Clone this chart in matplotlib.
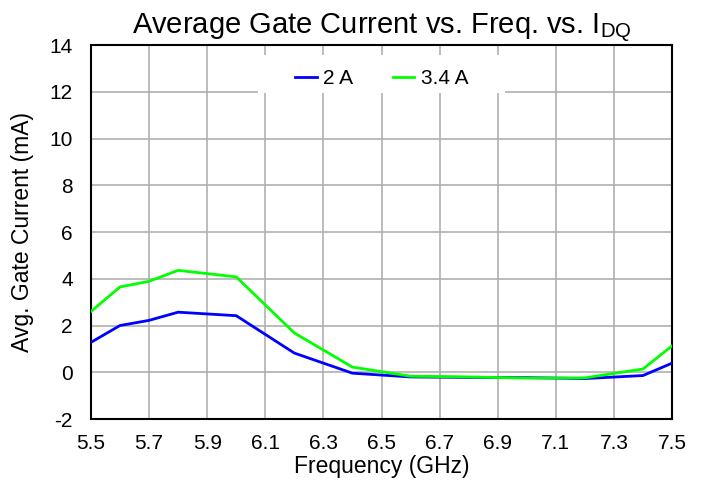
import numpy as np
import matplotlib.pyplot as plt
from matplotlib.patches import Rectangle

plt.rcParams['font.family'] = ['Liberation Sans', 'DejaVu Sans']
plt.rcParams['axes.unicode_minus'] = False

freq = [5.5, 5.6, 5.7, 5.8, 6.0, 6.2, 6.4, 6.6, 6.8, 7.0, 7.2, 7.4, 7.5]
i_2a = [1.28, 2.0, 2.22, 2.57, 2.42, 0.82, -0.04, -0.2, -0.22, -0.23, -0.27, -0.14, 0.39]
i_34a = [2.6, 3.65, 3.89, 4.36, 4.08, 1.68, 0.22, -0.17, -0.2, -0.25, -0.24, 0.14, 1.13]

xticks = [5.5, 5.7, 5.9, 6.1, 6.3, 6.5, 6.7, 6.9, 7.1, 7.3, 7.5]
yticks = list(range(-2, 15, 2))

fig = plt.figure(figsize=(7.03, 4.83), dpi=100)
ax = fig.add_axes([0.1294, 0.1325, 0.8266, 0.7743])

ax.plot(freq, i_2a, color='#0000ff', lw=2, label='2 A', zorder=3)
ax.plot(freq, i_34a, color='#00ff00', lw=2, label='3.4 A', zorder=3)

ax.set_xlim(5.5, 7.5)
ax.set_ylim(-2, 14)
ax.set_xticks(xticks)
ax.set_xticklabels([f'{t:.1f}' for t in xticks])
ax.set_yticks(yticks)
ax.grid(True, color='#b0b0b0', lw=1.2)
ax.tick_params(labelsize=15, length=0)
ax.tick_params(axis='x', pad=11)
ax.tick_params(axis='y', pad=13)
for s in ax.spines.values():
    s.set_linewidth(1.5)
    s.set_color('black')

ax.set_xlabel('Frequency (GHz)', fontsize=16.5, labelpad=1)
ax.set_ylabel('Avg. Gate Current (mA)', fontsize=16.5, labelpad=11)
ax.set_title('Average Gate Current vs. Freq. vs. I$_{\\mathregular{DQ}}$', fontsize=21, pad=5)

# white box behind the legend hides the gridlines
ax.add_patch(Rectangle((0.287, 0.872), 0.426, 0.101, transform=ax.transAxes,
                       facecolor='white', edgecolor='none', zorder=2.5))
leg = ax.legend(loc='upper center', ncol=2, frameon=False, fontsize=15,
                handlelength=1.05, columnspacing=1.9, borderaxespad=0.75,
                handletextpad=0.3)

plt.savefig('out.png', dpi=100)
